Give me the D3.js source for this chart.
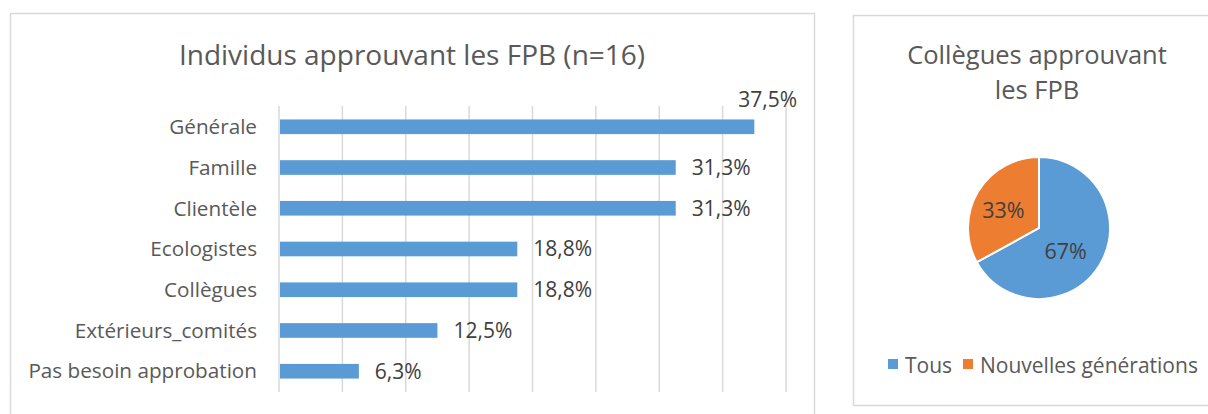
<!DOCTYPE html>
<html>
<head>
<meta charset="utf-8">
<script src="https://cdn.jsdelivr.net/npm/d3@7"></script>
<style>
  html, body { margin: 0; padding: 0; background: #fff; }
  svg { display: block; font-family: "Open Sans", sans-serif; }
</style>
</head>
<body>
<svg id="chart" width="1208" height="414"></svg>
<script>
/* Two Excel-style panels: horizontal bars (left) + pie (right) */

// ── Data ──────────────────────────────────────────
const categories = ['Générale', 'Famille', 'Clientèle', 'Ecologistes', 'Collègues', 'Extérieurs_comités', 'Pas besoin approbation'];
const values     = [37.5, 31.3, 31.3, 18.8, 18.8, 12.5, 6.3];
const barTitle   = 'Individus approuvant les FPB (n=16)';

const pieLabels  = ['Tous', 'Nouvelles générations'];
const pieValues  = [67, 33];
const pieTitle   = ['Collègues approuvant', 'les FPB'];

const blue   = '#5B9BD5';
const orange = '#ED7D31';
const gridC  = '#D9D9D9';
const textC  = '#595959';
const labelC = '#404040';

const svg = d3.select('#chart');

// ── Left panel ────────────────────────────────────
svg.append('rect')
  .attr('x', 10.5).attr('y', 13.5)
  .attr('width', 804).attr('height', 420)
  .attr('fill', '#fff').attr('stroke', gridC).attr('stroke-width', 1.5);

svg.append('text')
  .attr('x', 412).attr('y', 65)
  .attr('text-anchor', 'middle')
  .attr('font-size', 28)
  .attr('fill', textC)
  .text(barTitle);

const x = d3.scaleLinear().domain([0, 40]).range([279, 786]);
const y = d3.scaleBand().domain(categories).range([106, 392])
  .paddingInner(0.64).paddingOuter(0.33);

svg.append('g')
  .selectAll('line')
  .data(x.ticks(8))
  .join('line')
  .attr('x1', d => x(d)).attr('x2', d => x(d))
  .attr('y1', 106).attr('y2', 392)
  .attr('stroke', gridC).attr('stroke-width', 1.5);

svg.append('g')
  .selectAll('rect')
  .data(values)
  .join('rect')
  .attr('x', x(0) + 1)
  .attr('y', (d, i) => y(categories[i]))
  .attr('width', d => x(d) - x(0) - 1)
  .attr('height', y.bandwidth())
  .attr('fill', blue);

svg.append('g')
  .selectAll('text')
  .data(categories)
  .join('text')
  .attr('x', 257)
  .attr('y', d => y(d) + y.bandwidth() / 2)
  .attr('dy', '0.35em')
  .attr('text-anchor', 'end')
  .attr('font-size', 20.7)
  .attr('fill', textC)
  .text(d => d);

const fmt = v => v.toFixed(1).replace('.', ',') + '%';
svg.append('g')
  .selectAll('text')
  .data(values)
  .join('text')
  .each(function(d, i) {
    const cy = y(categories[i]) + y.bandwidth() / 2;
    const t = d3.select(this);
    // label would overflow the plot → Excel lifts it above the bar end
    if (x(d) + 16 + 58 > x(40)) {
      t.attr('x', x(d) - 16).attr('y', cy - 27);
    } else {
      t.attr('x', x(d) + 16).attr('y', cy);
    }
  })
  .attr('dy', '0.35em')
  .attr('font-size', 21)
  .attr('fill', labelC)
  .text(d => fmt(d));

// ── Right panel ───────────────────────────────────
svg.append('rect')
  .attr('x', 853.5).attr('y', 15.5)
  .attr('width', 400).attr('height', 390)
  .attr('fill', '#fff').attr('stroke', gridC).attr('stroke-width', 1.5);

svg.append('g')
  .selectAll('text')
  .data(pieTitle)
  .join('text')
  .attr('x', 1037)
  .attr('y', (d, i) => 64 + i * 35)
  .attr('text-anchor', 'middle')
  .attr('font-size', 25.5)
  .attr('fill', textC)
  .text(d => d);

const cx = 1039, cy = 228, r = 71;
const pie = d3.pie().sort(null)(pieValues);
const arc = d3.arc().innerRadius(0).outerRadius(r);
const colors = [blue, orange];

const pg = svg.append('g').attr('transform', `translate(${cx},${cy})`);
pg.selectAll('path')
  .data(pie)
  .join('path')
  .attr('d', arc)
  .attr('fill', (d, i) => colors[i])
  .attr('stroke', '#fff').attr('stroke-width', 2);

const labelArc = d3.arc().innerRadius(r * 0.55).outerRadius(r * 0.55);
const labelNudge = [[-7, 4], [-2, 2]];
pg.selectAll('text')
  .data(pie)
  .join('text')
  .attr('transform', (d, i) => {
    const [px, py] = labelArc.centroid(d);
    return `translate(${px + labelNudge[i][0]},${py + labelNudge[i][1]})`;
  })
  .attr('text-anchor', 'middle')
  .attr('dy', '0.35em')
  .attr('font-size', 21.5)
  .attr('fill', labelC)
  .text(d => d.data + '%');

// legend
const legX = [888, 963];
const lg = svg.append('g');
pieLabels.forEach((lab, i) => {
  lg.append('rect')
    .attr('x', legX[i]).attr('y', 359)
    .attr('width', 10).attr('height', 10)
    .attr('fill', colors[i]);
  lg.append('text')
    .attr('x', legX[i] + 17).attr('y', 366)
    .attr('dy', '0.35em')
    .attr('font-size', 21)
    .attr('fill', textC)
    .text(lab);
});
</script>
</body>
</html>
